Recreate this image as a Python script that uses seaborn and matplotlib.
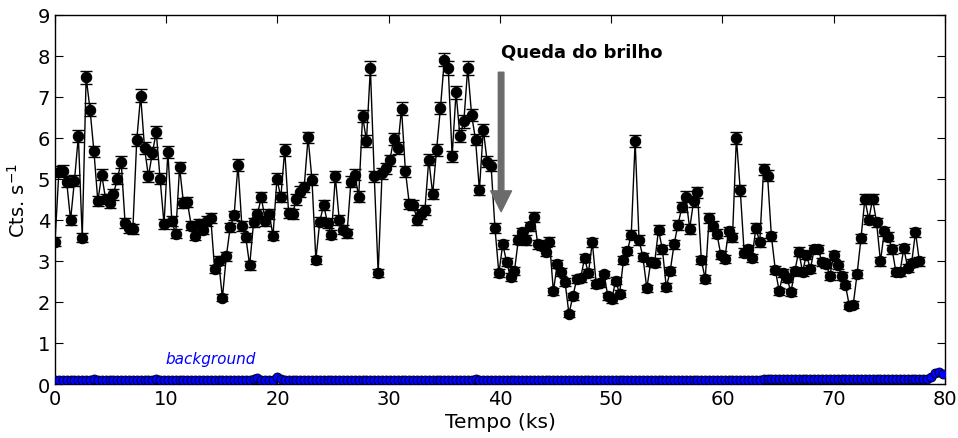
import numpy as np
import pandas as pd
import matplotlib
matplotlib.use("Agg")
import matplotlib.pyplot as plt
import seaborn as sns

# ---- data ----
BIN_KS = 0.35          # time bin of the light curve (ks)
BIN_S = 350.0          # same, in seconds

source_rate = [
    3.47, 5.18, 5.20, 4.93, 4.00, 4.96, 6.04, 3.57, 7.48, 6.69, 5.67, 4.46, 5.10, 4.51, 4.41, 4.62,
    5.00, 5.41, 3.93, 3.80, 3.78, 5.95, 7.03, 5.75, 5.06, 5.63, 6.14, 5.00, 3.90, 5.65, 3.98, 3.66, 5.28,
    4.41, 4.43, 3.86, 3.62, 3.90, 3.76, 3.98, 4.05, 2.80, 3.01, 2.10, 3.11, 3.82, 4.11, 5.34, 3.85,
    3.58, 2.89, 3.94, 4.15, 4.55, 3.98, 4.15, 3.62, 5.00, 4.55, 5.71, 4.17, 4.15, 4.50, 4.69,
    4.80, 6.01, 4.98, 3.03, 3.96, 4.37, 3.92, 3.64, 5.06, 4.00, 3.76, 3.67, 4.93, 5.10, 4.57, 6.53,
    5.93, 7.70, 5.06, 2.71, 5.14, 5.26, 5.45, 5.98, 5.75, 6.71, 5.19, 4.39, 4.37, 4.00, 4.15,
    4.24, 5.47, 4.63, 5.71, 6.73, 7.91, 7.70, 5.55, 7.11, 6.04, 6.40, 7.70, 6.56, 5.96, 4.73, 6.20,
    5.42, 5.32, 3.80, 2.70, 3.41, 2.97, 2.60, 2.75, 3.52, 3.70, 3.51, 3.84, 4.07, 3.41,
    3.37, 3.23, 3.47, 2.26, 2.93, 2.74, 2.48, 1.71, 2.14, 2.56, 2.58, 3.07, 2.70, 3.46, 2.44, 2.46,
    2.67, 2.14, 2.07, 2.52, 2.20, 3.02, 3.24, 3.64, 5.92, 3.51, 3.09, 2.33, 2.98, 2.96, 3.76,
    3.28, 2.36, 2.75, 3.41, 3.88, 4.31, 4.57, 3.78, 4.45, 4.67, 3.02, 2.56, 4.05, 3.85, 3.66, 3.15,
    3.05, 3.72, 3.58, 6.00, 4.72, 3.20, 3.29, 3.07, 3.80, 3.46, 5.24, 5.08, 3.60, 2.78, 2.26,
    2.71, 2.59, 2.24, 2.75, 3.23, 2.74, 3.15, 2.80, 3.29, 3.29, 2.97, 2.93, 2.64, 3.15, 2.91, 2.63,
    2.42, 1.91, 1.93, 2.68, 3.55, 4.51, 4.01, 4.51, 3.94, 2.99, 3.72, 3.59, 3.28, 2.72, 2.72, 3.31,
    2.83, 2.95, 3.70, 2.99,
]

background_rate = [
    0.09, 0.10, 0.09, 0.10, 0.10, 0.09, 0.10, 0.09, 0.10, 0.10, 0.11, 0.10, 0.09, 0.10, 0.09, 0.10,
    0.10, 0.09, 0.10, 0.09, 0.10, 0.10, 0.09, 0.10, 0.09, 0.10, 0.11, 0.10, 0.10, 0.09, 0.10, 0.10,
    0.09, 0.10, 0.09, 0.10, 0.10, 0.09, 0.10, 0.10, 0.09, 0.10, 0.10, 0.09, 0.10, 0.10, 0.09, 0.10,
    0.09, 0.10, 0.10, 0.11, 0.15, 0.10, 0.09, 0.10, 0.10, 0.17, 0.11, 0.10, 0.10, 0.09, 0.10, 0.10,
    0.09, 0.10, 0.10, 0.10, 0.09, 0.10, 0.09, 0.10, 0.10, 0.09, 0.10, 0.10, 0.09, 0.10, 0.10, 0.09,
    0.10, 0.09, 0.10, 0.10, 0.09, 0.10, 0.10, 0.09, 0.10, 0.09, 0.10, 0.10, 0.09, 0.10, 0.10, 0.09,
    0.10, 0.09, 0.10, 0.10, 0.09, 0.10, 0.10, 0.09, 0.10, 0.10, 0.09, 0.10, 0.11, 0.10, 0.09, 0.10,
    0.10, 0.09, 0.10, 0.10, 0.09, 0.10, 0.10, 0.09, 0.10, 0.10, 0.09, 0.10, 0.10, 0.09, 0.10, 0.10,
    0.09, 0.10, 0.10, 0.09, 0.10, 0.10, 0.09, 0.10, 0.10, 0.09, 0.10, 0.10, 0.09, 0.10, 0.10, 0.09,
    0.10, 0.10, 0.09, 0.10, 0.10, 0.09, 0.10, 0.10, 0.09, 0.10, 0.10, 0.09, 0.10, 0.10, 0.09, 0.10,
    0.10, 0.09, 0.10, 0.10, 0.09, 0.10, 0.10, 0.09, 0.10, 0.10, 0.09, 0.10, 0.10, 0.09, 0.10, 0.10,
    0.09, 0.10, 0.10, 0.09, 0.10, 0.10, 0.13, 0.13, 0.12, 0.13, 0.12, 0.11, 0.12, 0.13, 0.12, 0.11,
    0.12, 0.11, 0.12, 0.12, 0.11, 0.12, 0.11, 0.12, 0.11, 0.12, 0.12, 0.13, 0.12, 0.11, 0.12, 0.12,
    0.13, 0.12, 0.11, 0.12, 0.11, 0.12, 0.12, 0.11, 0.12, 0.13, 0.12, 0.11, 0.12, 0.13, 0.12, 0.12,
    0.13, 0.18, 0.26, 0.29, 0.24,
]

x_ticks = [0, 10, 20, 30, 40, 50, 60, 70, 80]
y_ticks = [0, 1, 2, 3, 4, 5, 6, 7, 8, 9]
annotation_text = "Queda do brilho"
background_label = "background"

# ---- build tables ----
src = pd.DataFrame({"t": np.arange(len(source_rate)) * BIN_KS, "rate": source_rate})
src["err"] = np.sqrt(src["rate"] / BIN_S) * 1.1
bkg = pd.DataFrame({"t": np.arange(len(background_rate)) * BIN_KS, "rate": background_rate})
bkg["err"] = np.sqrt(bkg["rate"] / BIN_S)

# ---- style ----
sns.set_style("ticks")
plt.rcParams["font.family"] = ["DejaVu Sans"]
plt.rcParams.update({
    "xtick.direction": "in", "ytick.direction": "in",
    "xtick.top": True, "ytick.right": True,
    "xtick.major.size": 6, "ytick.major.size": 6,
    "axes.linewidth": 1.0,
    "axes.edgecolor": "black", "axes.labelcolor": "black",
    "xtick.color": "black", "ytick.color": "black", "text.color": "black",
})

fig = plt.figure(figsize=(9.58, 4.39), dpi=100)
ax = fig.add_axes([0.0574, 0.123, 0.929, 0.841])

# background
ax.errorbar(bkg["t"], bkg["rate"], yerr=bkg["err"], fmt="none", ecolor="black",
            elinewidth=0.8, capsize=1.5, zorder=2)
sns.lineplot(data=bkg, x="t", y="rate", ax=ax, color="black", lw=1.0,
             marker="o", markersize=6.5, markerfacecolor="blue",
             markeredgecolor="black", markeredgewidth=0.6, zorder=3)

# source
ax.errorbar(src["t"], src["rate"], yerr=src["err"], fmt="none", ecolor="black",
            elinewidth=1.0, capsize=4, capthick=1.0, zorder=4)
sns.lineplot(data=src, x="t", y="rate", ax=ax, color="black", lw=1.0,
             marker="o", markersize=7.5, markerfacecolor="black",
             markeredgecolor="black", zorder=5)

ax.set_xlim(0, 80)
ax.set_ylim(0, 9)
ax.set_xticks(x_ticks)
ax.set_yticks(y_ticks)
ax.tick_params(labelsize=14, colors="black")
ax.set_xlabel("Tempo (ks)", fontsize=14.5, labelpad=3, color="black")
ax.set_ylabel("Cts. s$^{-1}$", fontsize=14, labelpad=6, color="black")

# annotation arrow
ax.annotate("", xy=(40.1, 4.2), xytext=(40.1, 7.6),
            arrowprops=dict(facecolor="#6b6b6b", edgecolor="#6b6b6b",
                            width=4, headwidth=15, headlength=15, shrink=0),
            zorder=6)
ax.text(40.1, 8.1, annotation_text, fontsize=13, fontweight="bold",
        ha="left", va="center", color="black")
ax.text(9.9, 0.62, background_label, fontsize=11, style="italic",
        color="blue", ha="left", va="center")

fig.savefig("out.png", dpi=100)
